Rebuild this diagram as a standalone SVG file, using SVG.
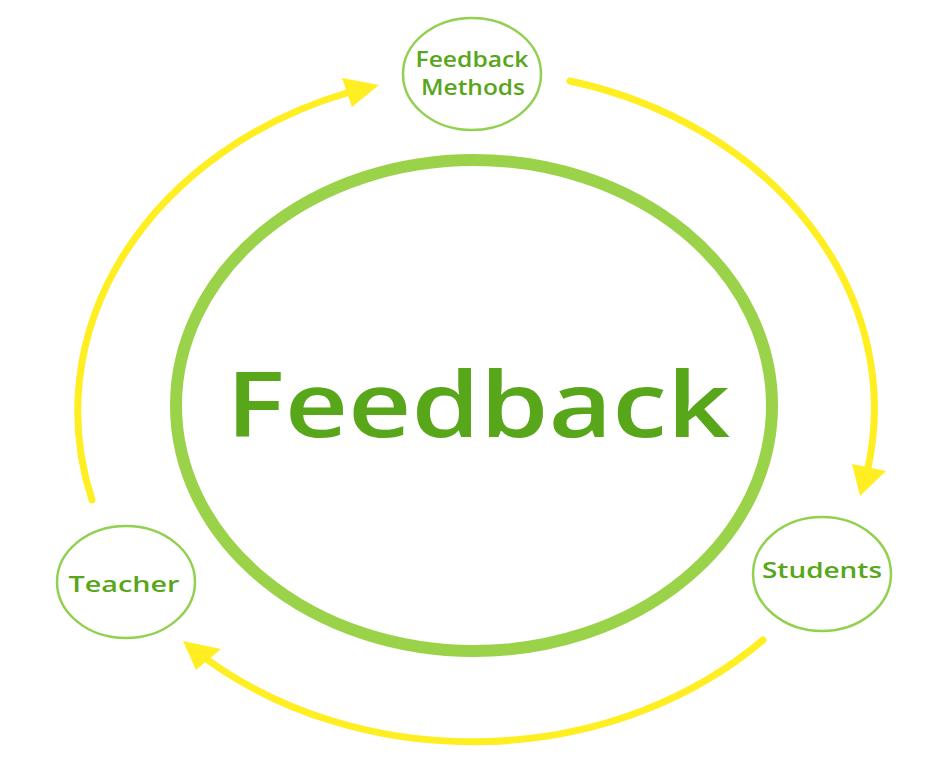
<svg xmlns="http://www.w3.org/2000/svg" width="941" height="767" viewBox="0 0 941 767">
<defs>
<style>
.node{fill:#ffffff;stroke:#92d050;stroke-width:2.5}
.lbl{font-family:"Open Sans","Noto Sans",sans-serif;font-weight:600;fill:#58a61a;text-anchor:middle}
.arc{fill:none;stroke:#ffee22;stroke-width:7;stroke-linecap:round}
.head{fill:#ffee22}
</style>
</defs>
<rect width="941" height="767" fill="#ffffff"/>
<g id="connectors">
<path class="arc" d="M 92 500 A 406 338 0 0 1 350 92"/>
<polygon class="head" points="379,85 342,78 352,107"/>
<path class="arc" d="M 570 81 A 406 338 0 0 1 868 468"/>
<polygon class="head" points="860,496 852,464 886,471"/>
<path class="arc" d="M 763 640 A 406 338 0 0 1 205 658"/>
<polygon class="head" points="183,641 221,649 196,670"/>
</g>
<g id="feedback-center">
<ellipse cx="474" cy="405.5" rx="298" ry="245.5" fill="none" stroke="#9ad24a" stroke-width="12"/>
<text class="lbl" x="478" y="437" font-size="91" textLength="504" lengthAdjust="spacingAndGlyphs">Feedback</text>
</g>
<g id="feedback-methods">
<ellipse class="node" cx="472" cy="74" rx="69" ry="56"/>
<text class="lbl" x="472" y="67" font-size="21" textLength="113" lengthAdjust="spacingAndGlyphs">Feedback</text>
<text class="lbl" x="473" y="95" font-size="21" textLength="104" lengthAdjust="spacingAndGlyphs">Methods</text>
</g>
<g id="students">
<ellipse class="node" cx="822" cy="574" rx="69" ry="57"/>
<text class="lbl" x="822" y="578" font-size="22" textLength="120" lengthAdjust="spacingAndGlyphs">Students</text>
</g>
<g id="teacher">
<ellipse class="node" cx="126" cy="582" rx="69" ry="56"/>
<text class="lbl" x="124" y="592" font-size="22" textLength="111" lengthAdjust="spacingAndGlyphs">Teacher</text>
</g>
</svg>
